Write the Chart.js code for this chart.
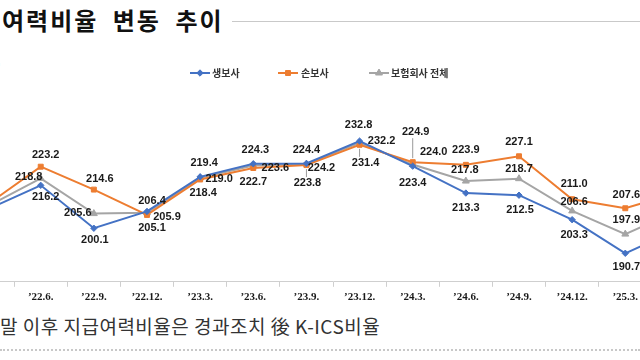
<!DOCTYPE html>
<html><head><meta charset="utf-8">
<script src="https://cdn.jsdelivr.net/npm/chart.js@4.4.1/dist/chart.umd.min.js"></script>
<style>
html,body{margin:0;padding:0;width:640px;height:360px;overflow:hidden;background:#fff;position:relative;}
#title{position:absolute;left:2px;top:4px;font-family:'Noto Sans CJK KR',sans-serif;font-weight:700;font-size:24px;letter-spacing:2px;word-spacing:7px;color:#111;line-height:32px;white-space:nowrap;}
#tline{position:absolute;left:232px;top:21px;width:408px;height:0;border-top:1px solid #c9c9c9;}
#unit{position:absolute;left:-14px;top:57px;font-family:'Noto Sans CJK KR',sans-serif;font-size:9px;color:#444;}
#note{position:absolute;left:0;top:313px;font-family:'Noto Sans CJK KR',sans-serif;font-size:19px;letter-spacing:0.5px;color:#333;white-space:nowrap;line-height:26px;}
#dots{position:absolute;left:0;top:349px;width:640px;height:0;border-top:2px dotted #c8c8c8;}
#wrap{position:absolute;left:-44px;top:0;width:754px;height:308px;}
</style></head><body>
<div id="title">여력비율 변동 추이</div>
<div id="tline"></div>
<div id="unit">(%)</div>
<div id="wrap"><canvas id="c" width="754" height="308"></canvas></div>
<div id="note">말 이후 지급여력비율은 경과조치 後 K-ICS비율</div>
<div id="dots"></div>
<script>
const categories = ["’22.3.","’22.6.","’22.9.","’22.12.","’23.3.","’23.6.","’23.9.","’23.12.","’24.3.","’24.6.","’24.9.","’24.12.","’25.3.","’25.6."];
const seriesNames = ["생보사","손보사","보험회사 전체"];
const lifeValues    = [207.2,216.2,200.1,206.4,219.4,224.3,224.4,232.8,223.4,213.3,212.5,203.3,190.7,199.8];
const nonLifeValues = [209.0,223.2,214.6,205.1,218.4,222.7,223.8,231.4,224.9,223.9,227.1,211.0,207.6,213.5];
const totalValues   = [208.3,218.8,205.6,205.9,219.0,223.6,224.2,232.2,224.0,217.8,218.7,206.6,197.9,206.8];

// label offsets (style only): [dx, dy] relative to each point
const lifeLabelPos    = [[-10,14],[5,12],[1,12],[5,-10],[4,-14],[2,-14],[0,-14],[-1,-16],[0,17],[0,15],[1,15],[2,15],[1,14],[0,14]];
const nonLifeLabelPos = [[-14,-13],[5,-12],[6,-11],[5,13],[3,13],[0,14],[1,18],[6,18],[3,-30],[0,-15],[0,-14],[2,-15],[1,-13],[0,-13]];
const totalLabelPos   = [[-26,0],[-12,-1],[-16,-1],[20,4],[19,1],[22,2],[15,4],[22,-2],[21,-13],[-1,-11],[0,-10],[2,-9],[1,-14],[0,-12]];
const legendX = [[190,212],[278,301],[369,391]];
const canvasLeft = -44;

const labelPlugin = {
  id:'valueLabels',
  afterDatasetsDraw(chart){
    const ctx = chart.ctx;
    const posSets = [lifeLabelPos, nonLifeLabelPos, totalLabelPos];
    ctx.save();
    ctx.font = "bold 11px 'Liberation Sans',Arial,sans-serif";
    ctx.textAlign='center'; ctx.textBaseline='middle';
    chart.data.datasets.forEach((ds,i)=>{
      const meta = chart.getDatasetMeta(i);
      meta.data.forEach((pt,j)=>{
        const [dx,dy] = posSets[i][j];
        const lx = pt.x+dx, ly = pt.y+dy;
        if (Math.abs(dy)>=18){
          ctx.strokeStyle='#9a9a9a'; ctx.lineWidth=1;
          ctx.beginPath();
          const s = Math.sign(dy);
          ctx.moveTo(pt.x, pt.y+s*4); ctx.lineTo(pt.x, ly - s*6); ctx.stroke();
        }
        ctx.fillStyle='#1a1a1a';
        ctx.fillText(ds.data[j].toFixed(1), lx, ly);
      });
    });
    ctx.restore();
  }
};

const legendPlugin = {
  id:'lineLegend',
  afterDraw(chart){
    const ctx = chart.ctx;
    const y = 73;
    ctx.save();
    chart.data.datasets.forEach((ds,i)=>{
      const x0 = legendX[i][0]-canvasLeft, tx = legendX[i][1]-canvasLeft;
      ctx.strokeStyle = ds.borderColor; ctx.lineWidth = 2;
      ctx.beginPath(); ctx.moveTo(x0,y); ctx.lineTo(x0+20,y); ctx.stroke();
      ctx.fillStyle = ds.borderColor; ctx.lineWidth = 1;
      Chart.helpers.drawPoint(ctx, {pointStyle: ds.pointStyle, radius: ds.pointRadius, borderWidth:1, rotation:0}, x0+10, y);
      ctx.fillStyle='#333';
      ctx.font = "bold 10px 'Noto Sans CJK KR',sans-serif";
      ctx.textAlign='left'; ctx.textBaseline='middle';
      ctx.fillText(ds.label, tx, y);
    });
    ctx.restore();
  }
};

const mk = (label, data, color, style, r) => ({
  label, data, borderColor:color, backgroundColor:color, borderWidth:2,
  pointStyle:style, pointRadius:r, pointBackgroundColor:color, pointBorderColor:color, pointBorderWidth:1,
  tension:0, fill:false
});

new Chart(document.getElementById('c'), {
  type:'line',
  data:{
    labels: categories,
    datasets:[
      mk(seriesNames[0], lifeValues, '#4472C4', 'rectRot', 3.2),
      mk(seriesNames[1], nonLifeValues, '#ED7D31', 'rect', 3.5),
      mk(seriesNames[2], totalValues, '#A5A5A5', 'triangle', 4)
    ]
  },
  options:{
    responsive:false, animation:false,
    layout:{padding:{top:18,left:0,right:0,bottom:0}},
    plugins:{legend:{display:false}, tooltip:{enabled:false}},
    scales:{
      x:{
        offset:true,
        grid:{offset:true, drawOnChartArea:false, tickLength:5, color:'#cfcfcf'},
        border:{color:'#cfcfcf', width:1},
        ticks:{color:'#1a1a1a', padding:4, maxRotation:0, autoSkip:false,
          font:{family:"'Liberation Serif','DejaVu Serif',serif", weight:'bold', size:11}}
      },
      y:{display:false, min:180, max:279}
    }
  },
  plugins:[labelPlugin, legendPlugin]
});
</script>
</body></html>
